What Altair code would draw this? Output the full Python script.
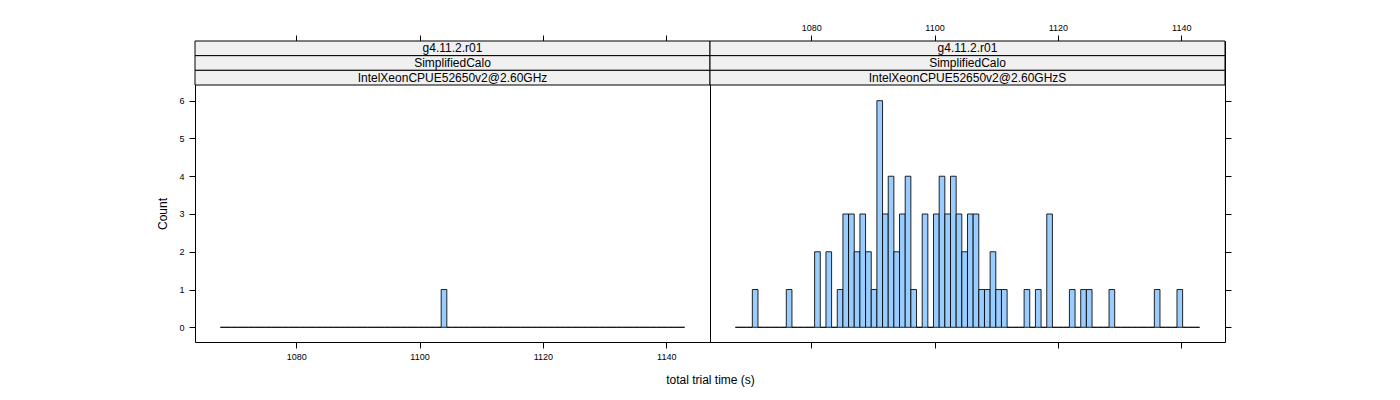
import altair as alt
import pandas as pd

# ---- data ----------------------------------------------------------------
# histogram breaks shared by both panels
BREAK_START = 1067.71
BREAK_WIDTH = 0.918
N_BINS = 82

STRIP_VERSION = "g4.11.2.r01"
STRIP_BENCH = "SimplifiedCalo"
CPU_LEFT = "IntelXeonCPUE52650v2@2.60GHz"
CPU_RIGHT = "IntelXeonCPUE52650v2@2.60GHzS"

left_counts = [
    0, 0, 0, 0, 0, 0, 0, 0, 0, 0,
    0, 0, 0, 0, 0, 0, 0, 0, 0, 0,
    0, 0, 0, 0, 0, 0, 0, 0, 0, 0,
    0, 0, 0, 0, 0, 0, 0, 0, 0, 1,
    0, 0, 0, 0, 0, 0, 0, 0, 0, 0,
    0, 0, 0, 0, 0, 0, 0, 0, 0, 0,
    0, 0, 0, 0, 0, 0, 0, 0, 0, 0,
    0, 0, 0, 0, 0, 0, 0, 0, 0, 0,
    0, 0,
]
right_counts = [
    0, 0, 0, 1, 0, 0, 0, 0, 0, 1,
    0, 0, 0, 0, 2, 0, 2, 0, 1, 3,
    3, 2, 3, 2, 1, 6, 3, 4, 2, 3,
    4, 1, 0, 3, 0, 3, 4, 3, 4, 3,
    2, 3, 3, 1, 1, 2, 1, 1, 0, 0,
    0, 1, 0, 1, 0, 3, 0, 0, 0, 1,
    0, 1, 1, 0, 0, 0, 1, 0, 0, 0,
    0, 0, 0, 0, 1, 0, 0, 0, 1, 0,
    0, 0,
]

X_TICKS = [1080, 1100, 1120, 1140]
Y_TICKS = [0, 1, 2, 3, 4, 5, 6]

# ---- layout ------------------------------------------------------------------
W = 515
H = 301
STRIP_H = 44
FONT = "Liberation Sans"
BAR_FILL = "#99CCFF"
STRIP_FILL = "#F0F0F0"

xscale = alt.Scale(domain=[1063.6, 1147.1], nice=False, zero=False)
yscale = alt.Scale(domain=[-0.389, 6.415], range=[H, STRIP_H], nice=False, zero=False)
strip_scale = alt.Scale(range=[0, STRIP_H], paddingInner=0, paddingOuter=0)


def hist_frame(counts):
    starts = [BREAK_START + i * BREAK_WIDTH for i in range(N_BINS)]
    return pd.DataFrame({
        "start": starts,
        "end": [s + BREAK_WIDTH for s in starts],
        "count": counts,
    })


def panel(counts, cpu, is_left):
    df = hist_frame(counts)

    xb = dict(orient="bottom", values=X_TICKS, labels=is_left, grid=False,
              domain=False, tickSize=6, labelPadding=4, format="d")
    if is_left:
        xb.update(title="total trial time (s)", titleX=W, titleY=37,
                  titleBaseline="middle", titleAlign="center",
                  titleFontSize=12, titleFontWeight="normal", titleFont=FONT)
    else:
        xb.update(title="")

    yb = dict(orient="left" if is_left else "right", values=Y_TICKS,
              labels=is_left, grid=False, domain=False, tickSize=6,
              labelPadding=5, format="d")
    if is_left:
        yb.update(title="Count", titleX=-33, titleY=172.5, titleAngle=270,
                  titleBaseline="middle", titleAlign="center",
                  titleFontSize=12, titleFontWeight="normal", titleFont=FONT)
    else:
        yb.update(title="")

    bars = alt.Chart(df).mark_rect(
        fill=BAR_FILL, stroke="black", strokeWidth=1, strokeOpacity=0.85
    ).encode(
        x=alt.X("start:Q", scale=xscale, axis=alt.Axis(**xb)),
        x2="end:Q",
        y=alt.Y("count:Q", scale=yscale, axis=alt.Axis(**yb)),
        y2=alt.datum(0),
    )

    top_axis = alt.Chart(df).mark_point(opacity=0).encode(
        x=alt.X("start:Q", scale=xscale,
                axis=alt.Axis(orient="top", values=X_TICKS, labels=not is_left,
                              grid=False, domain=False, tickSize=6,
                              labelPadding=3, title="", format="d")),
    )

    sdf = pd.DataFrame({"row": [0, 1, 2], "label": [STRIP_VERSION, STRIP_BENCH, cpu]})
    strip_rect = alt.Chart(sdf).mark_rect(
        fill=STRIP_FILL, stroke="black", strokeWidth=1
    ).encode(
        x=alt.value(0), x2=alt.value(W),
        y=alt.Y("row:O", scale=strip_scale, axis=None),
    )
    strip_text = alt.Chart(sdf).mark_text(
        font=FONT, fontSize=12, color="black", baseline="middle", align="center"
    ).encode(
        x=alt.value(W / 2),
        y=alt.Y("row:O", scale=strip_scale, axis=None),
        text="label:N",
    )
    strip = alt.layer(strip_rect, strip_text)

    return alt.layer(strip, bars, top_axis).resolve_scale(
        y="independent"
    ).resolve_axis(x="independent", y="independent").properties(width=W, height=H)


left = panel(left_counts, CPU_LEFT, True)
right = panel(right_counts, CPU_RIGHT, False)

chart = alt.hconcat(left, right, spacing=0, bounds="flush").properties(
    padding={"left": 147, "top": 14, "right": 5, "bottom": 5}
).configure_view(
    stroke="black", strokeWidth=1
).configure_axis(
    labelFont=FONT, labelFontSize=9, labelColor="black",
    tickColor="black", tickWidth=1, titleColor="black",
)

chart.save("out.html", embed_options={"renderer": "svg", "actions": False})
